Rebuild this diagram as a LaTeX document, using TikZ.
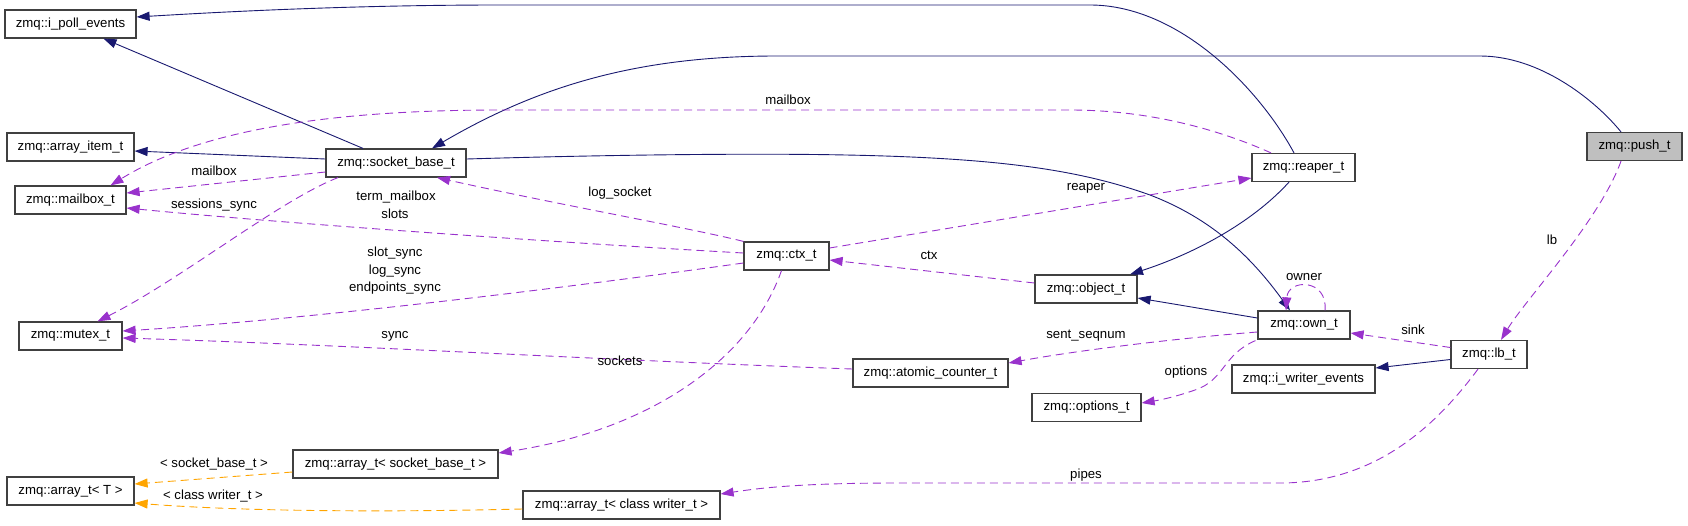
\documentclass[tikz,border=0pt]{standalone}
\usepackage{fontspec}
\setmainfont{Liberation Sans}
\usetikzlibrary{arrows.meta,calc}
\definecolor{navyedge}{HTML}{191970}
\definecolor{orchid}{HTML}{9932CC}
\definecolor{orangeedge}{HTML}{FFA500}
\definecolor{rootfill}{HTML}{BFBFBF}
\definecolor{boxline}{HTML}{404040}
\begin{document}
\begin{tikzpicture}[x=1pt,y=-1pt,
  font=\fontsize{13.2pt}{15pt}\selectfont,
  cls/.style={draw=boxline, line width=1.2pt, fill=white, minimum height=28pt, inner sep=0pt, anchor=center},
  root/.style={cls, fill=rootfill},
  inh/.style={draw=navyedge, line width=0.9pt, -{Triangle[length=13pt,width=9pt]}},
  use/.style={draw=orchid, line width=0.9pt, dash pattern=on 8pt off 5pt, -{Triangle[length=13pt,width=9pt]}},
  tmpl/.style={draw=orangeedge, line width=0.9pt, dash pattern=on 8pt off 5pt, -{Triangle[length=13pt,width=9pt]}},
  lbl/.style={inner sep=0pt, anchor=center}
]
\useasboundingbox (0,0) rectangle (1688,525);

% nodes
\node[cls, minimum width=131pt] (ipoll) at (70.5,24) {zmq::i\_poll\_events};
\node[cls, minimum width=127pt] (arrayitem) at (70.5,147) {zmq::array\_item\_t};
\node[cls, minimum width=111pt] (mailbox) at (70.5,200) {zmq::mailbox\_t};
\node[cls, minimum width=103pt] (mutex) at (70.5,336) {zmq::mutex\_t};
\node[cls, minimum width=127pt] (arrayT) at (70.5,491) {zmq::array\_t< T >};
\node[cls, minimum width=140pt] (socketbase) at (396,163) {zmq::socket\_base\_t};
\node[cls, minimum width=85pt] (ctx) at (786.5,256) {zmq::ctx\_t};
\node[cls, minimum width=205pt] (arraysb) at (395.5,464) {zmq::array\_t< socket\_base\_t >};
\node[cls, minimum width=197pt] (arraywr) at (621.5,505) {zmq::array\_t< class writer\_t >};
\node[cls, minimum width=103pt] (reaper) at (1303.5,167.5) {zmq::reaper\_t};
\node[root, minimum width=95pt] (push) at (1634.5,146.5) {zmq::push\_t};
\node[cls, minimum width=102pt] (object) at (1086,289) {zmq::object\_t};
\node[cls, minimum width=155pt] (atomic) at (930.5,373) {zmq::atomic\_counter\_t};
\node[cls, minimum width=109pt] (options) at (1086.5,407.5) {zmq::options\_t};
\node[cls, minimum width=92pt] (own) at (1304,325) {zmq::own\_t};
\node[cls, minimum width=76pt] (lb) at (1489,354.5) {zmq::lb\_t};
\node[cls, minimum width=143pt] (iwriter) at (1303.5,379) {zmq::i\_writer\_events};

% inheritance edges
\draw[inh] ($(reaper.north)+(-9.5,0)$) .. controls (1260,90) and (1180,5) .. (1090,5) -- (500,5) .. controls (350,5) and (220,12) .. ($(ipoll.east)+(0,-7)$);
\draw[inh] ($(socketbase.north)+(-33,0)$) -- ($(ipoll.south)+(33,0)$);
\draw[inh] ($(push.north)+(-13.5,0)$) .. controls (1595,100) and (1540,56) .. (1480,56) -- (777,56) .. controls (640,56) and (540,85) .. ($(socketbase.north)+(36,0)$);
\draw[inh] ($(socketbase.west)+(0,-4)$) -- ($(arrayitem.east)+(0,4)$);
\draw[inh] ($(socketbase.east)+(0,-4)$) .. controls (600,155) and (750,153) .. (846,155) .. controls (1000,158) and (1080,170) .. (1150,195) .. controls (1210,218) and (1250,255) .. ($(own.north)+(-14,0)$);
\draw[inh] ($(reaper.south)+(-14.5,0)$) .. controls (1250,225) and (1190,255) .. ($(object.north)+(44,0)$);
\draw[inh] ($(own.west)+(0,-7)$) -- ($(object.east)+(0,9)$);
\draw[inh] ($(lb.west)+(0,5)$) -- ($(iwriter.east)+(0,-11)$);

% usage edges
\draw[use] ($(reaper.north)+(-32.5,0)$) .. controls (1220,130) and (1150,110) .. (1070,110) -- (500,110) .. controls (330,110) and (200,130) .. ($(mailbox.north)+(40,0)$);
\node[lbl] (lmailboxa) at (788,100) {mailbox};

\draw[use] ($(socketbase.west)+(0,9)$) -- ($(mailbox.east)+(0,-7)$);
\node[lbl] (lmailboxb) at (214,171) {mailbox};

\draw[use] ($(ctx.west)+(0,-3)$) .. controls (600,245) and (300,225) .. ($(mailbox.east)+(0,8)$);
\node[lbl] (ltermmailbox) at (396,197) {term\_mailbox};
\node[lbl] (lslots) at (395,214) {slots};

\draw[use] ($(socketbase.south)+(-58,0)$) .. controls (280,200) and (180,280) .. ($(mutex.north)+(27,0)$);
\node[lbl] (lsessions) at (214,205) {sessions\_sync};

\draw[use] (ctx.north west) .. controls (690,228) and (560,205) .. ($(socketbase.south)+(41,0)$);
\node[lbl] (llogsocket) at (620,193) {log\_socket};

\draw[use] ($(ctx.west)+(0,7)$) .. controls (550,290) and (300,320) .. ($(mutex.east)+(0,-5)$);
\node[lbl] (lslotsync) at (395,253) {slot\_sync};
\node[lbl] (llogsync) at (395,271) {log\_sync};
\node[lbl] (lendpoints) at (395,288) {endpoints\_sync};

\draw[use] ($(atomic.west)+(0,-4)$) .. controls (600,360) and (350,345) .. ($(mutex.east)+(0,2)$);
\node[lbl] (lsync) at (395,336) {sync};

\draw[use] ($(ctx.south)+(-5,0)$) .. controls (750,360) and (650,430) .. ($(arraysb.east)+(0,-11)$);
\node[lbl] (lsockets) at (620,361) {sockets};

\draw[use] ($(ctx.east)+(0,-8)$) -- ($(reaper.west)+(0,10.5)$);
\node[lbl] (lreaper) at (1086,188) {reaper};

\draw[use] ($(object.west)+(0,-6)$) -- ($(ctx.east)+(0,4)$);
\node[lbl] (lctx) at (929,255) {ctx};

\draw[use] ($(own.north)+(21,0)$) .. controls ($(own.north)+(24,-32)$) and ($(own.north)+(-16,-32)$) .. ($(own.north)+(-18,0)$);
\node[lbl] (lowner) at (1304,277) {owner};

\draw[use] ($(own.west)+(0,7)$) .. controls (1180,338) and (1080,350) .. ($(atomic.east)+(0,-10)$);
\node[lbl] (lseqnum) at (1086,336) {sent\_seqnum};

\draw[use] ($(own.south west)+(-2,1)$) .. controls (1222,355) and (1225,380) .. (1195,390) .. controls (1175,397) and (1160,400) .. ($(options.east)+(0,-4.5)$);
\node[lbl] (loptions) at (1186,372) {options};

\draw[use] ($(lb.west)+(0,-7)$) -- ($(own.east)+(0,8)$);
\node[lbl] (lsink) at (1413,330) {sink};

\draw[use] ($(push.south)+(-13.5,0)$) .. controls (1600,220) and (1525,300) .. ($(lb.north)+(12,0)$);
\node[lbl] (llb) at (1552,240) {lb};

\draw[use] ($(lb.south)+(-11,0)$) .. controls (1440,420) and (1380,483) .. (1280,483) -- (900,483) .. controls (800,483) and (760,488) .. ($(arraywr.east)+(0,-11)$);
\node[lbl] (lpipes) at (1086,475) {pipes};

% template edges
\draw[tmpl] ($(arraysb.west)+(0,8)$) -- ($(arrayT.east)+(0,-7)$);
\node[lbl] (lsbt) at (214,464) {< socket\_base\_t >};
\draw[tmpl] ($(arraywr.west)+(0,4)$) .. controls (400,512) and (250,512) .. ($(arrayT.east)+(0,12)$);
\node[lbl] (lcwt) at (213,496) {< class writer\_t >};
\end{tikzpicture}
\end{document}
